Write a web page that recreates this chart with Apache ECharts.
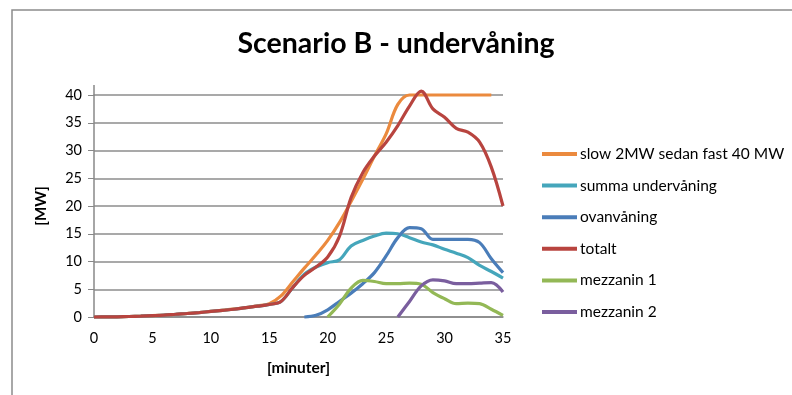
<!DOCTYPE html>
<html><head><meta charset="utf-8">
<script src="https://cdn.jsdelivr.net/npm/echarts@6/dist/echarts.min.js"></script>
<style>html,body{margin:0;padding:0;background:#fff}#c{width:792px;height:395px}</style>
</head><body><div id="c"></div>
<script>
const minutes = [0,1,2,3,4,5,6,7,8,9,10,11,12,13,14,15,16,17,18,19,20,21,22,23,24,25,26,27,28,29,30,31,32,33,34,35];
const xTicks = [0,5,10,15,20,25,30,35];
const yTicks = [0,5,10,15,20,25,30,35,40];
const slowFast = [0,0.01,0.04,0.09,0.16,0.25,0.36,0.49,0.64,0.81,1.0,1.2,1.45,1.7,2.0,2.4,3.8,6.3,8.8,11.2,13.8,17,20.8,24.8,29,33,38.3,40,40,40,40,40,40,40,40,null];
const summaUnder = [0,0.01,0.04,0.09,0.16,0.25,0.35,0.5,0.63,0.8,1.0,1.2,1.4,1.7,1.95,2.25,2.8,5.3,7.7,9.0,9.8,10.3,12.8,13.8,14.6,15.1,15.0,14.3,13.5,13.0,12.2,11.5,10.7,9.3,8.2,7.0];
const ovan = [null,null,null,null,null,null,null,null,null,null,null,null,null,null,null,null,null,null,0,0.3,1.3,2.8,4.3,6.0,8.0,11.0,14.3,16.1,15.9,14.0,14.0,14.0,14.0,13.4,10.5,8.0];
const totalt = [0,0.01,0.04,0.09,0.16,0.25,0.35,0.5,0.63,0.8,1.0,1.2,1.4,1.7,1.95,2.25,2.8,5.3,7.5,9.0,10.8,14.5,21.5,26,29,31.5,34.5,38,40.7,37.5,36,34,33.3,31.5,27,20];
const mezz1 = [null,null,null,null,null,null,null,null,null,null,null,null,null,null,null,null,null,null,null,null,0,2.3,5.2,6.6,6.4,6.0,6.0,6.1,5.9,4.4,3.3,2.4,2.5,2.4,1.4,0.3];
const mezz2 = [null,null,null,null,null,null,null,null,null,null,null,null,null,null,null,null,null,null,null,null,null,null,null,null,null,null,0,2.8,5.6,6.7,6.5,6.0,6.0,6.1,6.2,4.5];
const names = ['slow 2MW sedan fast 40 MW','summa undervåning','ovanvåning','totalt','mezzanin 1','mezzanin 2'];
const colors = ['#EB8A3E','#45A6BB','#4A7DB9','#B8443F','#93B856','#7A5E9E'];
const values = [slowFast, summaUnder, ovan, totalt, mezz1, mezz2];
const font = 'Lato, "Open Sans", sans-serif';
const chart = echarts.init(document.getElementById('c'));
chart.setOption({
  animation:false,
  title:{text:'Scenario B - undervåning',left:'center',top:24,textStyle:{fontFamily:font,fontSize:28.5,fontWeight:'bold',color:'#000'}},
  graphic:[{type:'polyline',shape:{points:[[12,400],[12,10],[800,10]]},style:{stroke:'#8c8c8c',lineWidth:1.5,fill:null}},
           {type:'line',shape:{x1:94,y1:85,x2:94,y2:96},style:{stroke:'#888',lineWidth:1.5}}],
  grid:{left:94,right:289,top:95,bottom:78},
  legend:{orient:'vertical',left:537,top:141,itemWidth:35,itemHeight:4,icon:'rect',itemGap:15.6,
    textStyle:{fontFamily:font,fontSize:15.5,color:'#000',lineHeight:16,padding:[0,0,0,-2]},
    data:names},
  xAxis:{type:'value',min:0,max:35,interval:5,
    axisLine:{lineStyle:{color:'#888',width:1.5}},axisTick:{show:false},splitLine:{show:false},
    axisLabel:{fontFamily:font,fontSize:14.5,color:'#000',margin:14,customValues:xTicks},
    name:'[minuter]',nameLocation:'middle',nameGap:43,nameTextStyle:{fontFamily:font,fontSize:15.5,fontWeight:'bold',color:'#000'}},
  yAxis:{type:'value',min:0,max:40,interval:5,
    axisLine:{show:true,lineStyle:{color:'#888',width:1.5}},axisTick:{show:true,length:6,lineStyle:{color:'#888'}},
    splitLine:{lineStyle:{color:'#8c8c8c',width:1.5}},
    axisLabel:{fontFamily:font,fontSize:14.5,color:'#000',margin:12,customValues:yTicks},
    name:'[MW]',nameLocation:'middle',nameGap:45,nameTextStyle:{fontFamily:font,fontSize:15,fontWeight:'bold',color:'#000'}},
  series: names.map((n,i)=>({name:n,type:'line',smooth:0.35,showSymbol:false,symbol:'none',connectNulls:false,clip:false,
    color:colors[i],lineStyle:{width:3.2,color:colors[i]},
    data: minutes.map((m,k)=>[m, values[i][k]])}))
});
</script></body></html>
